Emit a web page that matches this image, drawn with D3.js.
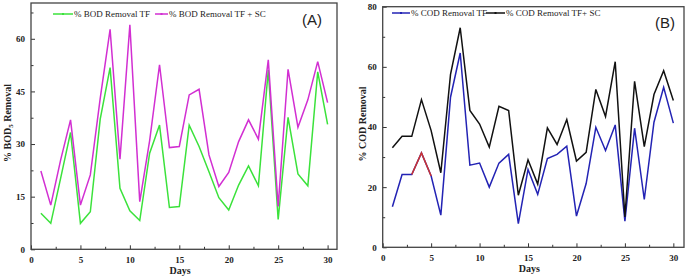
<!DOCTYPE html>
<html>
<head>
<script src="https://d3js.org/d3.v7.min.js"></script>
<style>
  body { margin: 0; background: #fff; }
</style>
</head>
<body>
<svg id="mainSvg" width="685" height="278" font-family="Liberation Serif, Times New Roman, serif"></svg>
<script>
// ---- data ----
const days = d3.range(1, 31);

const bodTF = [10.3, 7.4, 20.3, 33.3, 7.4, 10.7, 37.1, 51.8, 17.4, 11.0,
               8.2, 27.4, 35.4, 11.9, 12.2, 35.4, 29.3, 22.1, 14.7, 11.2,
               18.3, 23.8, 18.1, 51.1, 8.5, 37.6, 21.5, 18.1, 50.6, 35.6];
const bodTFSC = [22.3, 12.6, 25.5, 36.9, 12.6, 21.2, 43.0, 62.7, 25.7, 64.0,
                 13.6, 31.0, 52.6, 29.0, 29.3, 44.0, 45.6, 26.9, 17.9, 21.9,
                 30.7, 36.9, 31.4, 54.0, 12.2, 51.3, 34.8, 42.6, 53.5, 41.8];

const codTF = [13.5, 24.2, 24.2, 31.4, 23.7, 10.7, 49.9, 64.6, 27.3, 28.0,
               20.0, 28.0, 30.9, 7.9, 25.9, 17.6, 29.5, 30.9, 33.6, 10.4,
               21.2, 39.9, 32.2, 40.7, 8.7, 39.6, 15.9, 41.6, 53.2, 41.3];
const codTFSC = [33.1, 36.9, 36.9, 49.1, 38.8, 24.8, 57.5, 73.0, 45.5, 41.0,
                 33.3, 46.9, 45.5, 17.3, 29.1, 21.0, 39.7, 34.2, 42.5, 28.7,
                 31.6, 52.5, 43.5, 61.7, 10.1, 55.2, 33.5, 50.8, 58.7, 48.8];
const codHighlightDays = [3, 4, 5];

const xTicks = [0, 5, 10, 15, 20, 25, 30];
const bodYTicks = [0, 15, 30, 45, 60];
const codYTicks = [0, 20, 40, 60, 80];

const svg = d3.select("#mainSvg");

function panel(opt) {
  const g = svg.append("g");
  const x = d3.scaleLinear().domain([0, opt.xMax]).range([opt.left, opt.right]);
  const y = d3.scaleLinear().domain([0, opt.yMax]).range([opt.bottom, opt.top]);

  // minor ticks (inward)
  const xMinor = d3.range(2.5, 31, 5);
  const yStep = opt.yTicks[1] - opt.yTicks[0];
  const yMinor = d3.range(yStep / 2, opt.yMax, yStep);

  const xAxis = d3.axisBottom(x).tickValues(xTicks).tickSizeInner(-4).tickSizeOuter(0).tickPadding(7);
  const yAxis = d3.axisLeft(y).tickValues(opt.yTicks).tickSizeInner(-4).tickSizeOuter(0).tickPadding(6);

  g.append("g").attr("transform", `translate(0,${opt.bottom})`).call(xAxis);
  g.append("g").attr("transform", `translate(${opt.left},0)`).call(yAxis);
  g.append("g").attr("transform", `translate(0,${opt.bottom})`)
    .call(d3.axisBottom(x).tickValues(xMinor).tickSizeInner(-2.5).tickSizeOuter(0).tickFormat(""));
  g.append("g").attr("transform", `translate(${opt.left},0)`)
    .call(d3.axisLeft(y).tickValues(yMinor).tickSizeInner(-2.5).tickSizeOuter(0).tickFormat(""));

  g.selectAll(".domain").remove();
  g.selectAll(".tick line").attr("stroke", "#333").attr("stroke-width", 1);
  g.selectAll(".tick text")
    .attr("font-family", "Liberation Serif")
    .attr("font-weight", "bold")
    .attr("font-size", 9)
    .attr("fill", "#222");

  // frame
  g.append("rect")
    .attr("x", opt.left).attr("y", opt.top)
    .attr("width", opt.right - opt.left).attr("height", opt.bottom - opt.top)
    .attr("fill", "none").attr("stroke", "#444").attr("stroke-width", 1.3);

  const line = d3.line().x((d, i) => x(days[i])).y(d => y(d));
  opt.series.forEach(s => {
    g.append("path")
      .datum(s.values)
      .attr("d", line)
      .attr("fill", "none")
      .attr("stroke", s.color)
      .attr("stroke-width", 1.5)
      .attr("stroke-linejoin", "miter");
  });

  // legend
  opt.series.forEach((s, i) => {
    const lxs = opt.legendPos[i];
    g.append("line")
      .attr("x1", lxs[0]).attr("x2", lxs[1])
      .attr("y1", opt.legendY).attr("y2", opt.legendY)
      .attr("stroke", s.color).attr("stroke-width", 1.5);
    g.append("rect")
      .attr("x", (lxs[0] + lxs[1]) / 2 - 1).attr("y", opt.legendY - 1)
      .attr("width", 2).attr("height", 2).attr("fill", s.color);
    g.append("text")
      .attr("x", lxs[1] + 1).attr("y", opt.legendY + 3)
      .attr("font-size", 9).attr("fill", "#222")
      .text(s.name);
  });

  g.append("text")
    .attr("x", opt.tagX).attr("y", opt.tagY)
    .attr("font-family", "Liberation Sans, Arial, sans-serif")
    .attr("font-size", 15)
    .attr("fill", "#222")
    .text(opt.tag);

  g.append("text")
    .attr("x", (opt.left + opt.right) / 2 - 4).attr("y", opt.bottom + 25)
    .attr("text-anchor", "middle")
    .attr("font-weight", "bold").attr("font-size", 10).attr("fill", "#222")
    .text("Days");

  return { g, x, y };
}

const A = panel({
  left: 31, right: 337, top: 3, bottom: 249.3,
  xMax: 30.95, yMax: 70.2, yTicks: bodYTicks,
  legendY: 14, legendPos: [[53, 73], [155, 168]],
  tag: "(A)", tagX: 302, tagY: 25,
  series: [
    { name: "% BOD Removal TF", values: bodTF, color: "#3be23b" },
    { name: "% BOD Removal TF + SC", values: bodTFSC, color: "#d22fd2" }
  ]
});

const B = panel({
  left: 382.7, right: 684, top: 6.7, bottom: 247.3,
  xMax: 31.1, yMax: 80, yTicks: codYTicks,
  legendY: 13, legendPos: [[392, 410], [486, 505]],
  tag: "(B)", tagX: 655, tagY: 28,
  series: [
    { name: "% COD Removal TF", values: codTF, color: "#2323b4" },
    { name: "% COD Removal  TF+ SC", values: codTFSC, color: "#111" }
  ]
});

// red highlighted segment of COD TF
B.g.append("path")
  .datum(codHighlightDays)
  .attr("d", d3.line().x(d => B.x(d)).y(d => B.y(codTF[d - 1])))
  .attr("fill", "none")
  .attr("stroke", "#cc3333")
  .attr("stroke-width", 1.5);

// y-axis titles
const ya = svg.append("text")
  .attr("transform", "translate(11,123) rotate(-90)")
  .attr("text-anchor", "middle")
  .attr("font-weight", "bold").attr("font-size", 10).attr("fill", "#222");
ya.append("tspan").text("% BOD");
ya.append("tspan").attr("font-size", 7).attr("dy", 2).text("5");
ya.append("tspan").attr("dy", -2).text(" Removal");

svg.append("text")
  .attr("transform", "translate(366,124) rotate(-90)")
  .attr("text-anchor", "middle")
  .attr("font-weight", "bold").attr("font-size", 10).attr("fill", "#222")
  .text("% COD Removal");
</script>
</body>
</html>
